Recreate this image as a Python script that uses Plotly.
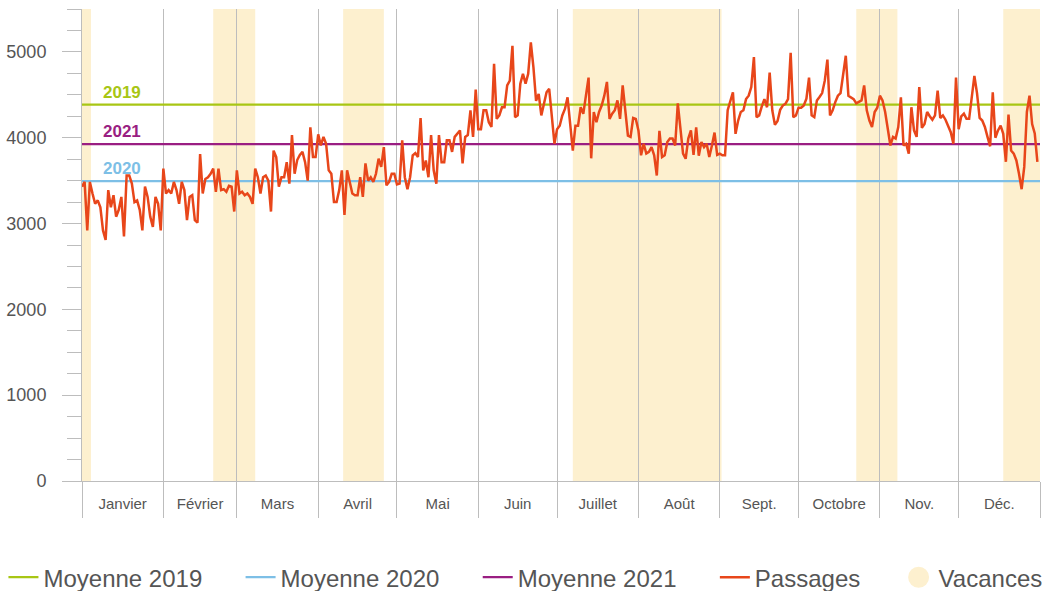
import pandas as pd
import plotly.graph_objects as go

# Données journalières
jours = pd.date_range("2022-01-01", "2022-12-31", freq="D")
passages = [
    3430, 3485, 2920, 3485, 3350, 3230, 3270, 3190, 2920, 2810,
    3390, 3190, 3330, 3080, 3160, 3310, 2850, 3560, 3560, 3465,
    3250, 3270, 3160, 2920, 3430, 3310, 3080, 2960, 3310, 3230,
    2920, 3640, 3350, 3390, 3350, 3485, 3390, 3230, 3485, 3390,
    3040, 3310, 3330, 3040, 3010, 3810, 3350, 3520, 3540, 3580,
    3640, 3370, 3640, 3390, 3400, 3370, 3440, 3430, 3140, 3620,
    3350, 3370, 3330, 3350, 3310, 3230, 3640, 3540, 3350, 3540,
    3560, 3500, 3140, 3850, 3775, 3430, 3540, 3540, 3715, 3465,
    4030, 3580, 3740, 3800, 3835, 3715, 3500, 4120, 3775, 3775,
    4040, 3910, 4010, 3930, 3620, 3580, 3250, 3250, 3390, 3620,
    3100, 3620, 3485, 3350, 3330, 3330, 3540, 3310, 3700, 3500,
    3540, 3485, 3580, 3755, 3660, 3890, 3445, 3485, 3580, 3580,
    3455, 3465, 3970, 3540, 3400, 3540, 3795, 3820, 3775, 4230,
    3620, 3735, 3540, 4030, 3620, 3465, 4030, 3715, 3715, 3970,
    3970, 3835, 4010, 4050, 4085, 3700, 4010, 4030, 4320, 4010,
    4560, 4100, 4100, 4320, 4320, 4180, 4125, 4860, 4220, 4260,
    4355, 4355, 4610, 4665, 5070, 4240, 4260, 4630, 4745, 4630,
    4745, 5110, 4820, 4430, 4510, 4260, 4410, 4530, 4570, 4280,
    3930, 4100, 4140, 4260, 4335, 4470, 4125, 3850, 4140, 4140,
    4355, 4280, 4490, 4700, 3760, 4300, 4180, 4300, 4375, 4490,
    4650, 4220, 4280, 4320, 4435, 4220, 4610, 4300, 4025, 4010,
    4230, 4220, 4085, 3795, 3930, 3815, 3835, 3890, 3795, 3560,
    4080, 3775, 3795, 3950, 3990, 3990, 3910, 4400, 4085, 3815,
    3755, 3990, 4085, 3800, 4120, 3790, 3950, 3890, 3930, 3775,
    3910, 4060, 3800, 3815, 3795, 3795, 4320, 4430, 4530, 4045,
    4200, 4300, 4320, 4450, 4490, 4590, 4940, 4240, 4260, 4365,
    4450, 4355, 4760, 4320, 4150, 4195, 4325, 4375, 4395, 4450,
    4990, 4240, 4260, 4350, 4350, 4375, 4455, 4700, 4260, 4240,
    4435, 4475, 4520, 4665, 4910, 4260, 4320, 4415, 4490, 4520,
    4745, 4955, 4490, 4470, 4450, 4400, 4415, 4435, 4610, 4320,
    4200, 4125, 4300, 4350, 4490, 4435, 4300, 4110, 3910, 4010,
    3990, 4125, 4470, 3910, 3930, 3815, 4355, 4085, 4010, 4590,
    4115, 4160, 4300, 4250, 4210, 4260, 4550, 4230, 4260, 4210,
    4145, 4065, 3930, 4700, 4100, 4250, 4280, 4220, 4220, 4490,
    4720, 4520, 4230, 4200, 4125, 4010, 3900, 4530, 4000, 4085,
    4140, 4045, 3720, 4270, 3850, 3815, 3735, 3580, 3400, 3660,
    4300, 4490, 4160, 4050, 3720,
]

moyenne_2019 = 4385
moyenne_2020 = 3495
moyenne_2021 = 3925

mois = ["Janvier", "Février", "Mars", "Avril", "Mai", "Juin", "Juillet",
        "Août", "Sept.", "Octobre", "Nov.", "Déc."]

vacances_debut = ["2022-01-01", "2022-02-20", "2022-04-10 12:00",
                  "2022-07-07", "2022-10-23", "2022-12-18"]
vacances_fin = ["2022-01-04 10:00", "2022-03-08", "2022-04-26",
                "2022-09-01 16:00", "2022-11-07 16:00", "2023-01-01"]

c2019 = "#a8c614"
c2020 = "#7dbfe6"
c2021 = "#9a1e82"
c_pass = "#e8461a"
c_vac = "#fdf0cf"
gris = "#bdbdbd"
texte = "#555555"

debut = pd.Timestamp("2022-01-01")
fin = pd.Timestamp("2023-01-01")
debuts_mois = pd.date_range(debut, fin, freq="MS")
milieux_mois = [a + (b - a) / 2 for a, b in zip(debuts_mois[:-1], debuts_mois[1:])]

# espace après chaque entrée de légende
esp = "\u00a0" * 5

fig = go.Figure()

for nom, val, col in [("Moyenne 2019", moyenne_2019, c2019),
                      ("Moyenne 2020", moyenne_2020, c2020),
                      ("Moyenne 2021", moyenne_2021, c2021)]:
    fig.add_trace(go.Scatter(x=[debut, fin], y=[val, val], mode="lines", name=nom + esp,
                             line=dict(color=col, width=2.2), hoverinfo="skip"))

fig.add_trace(go.Scatter(x=jours, y=passages, mode="lines", name="Passages" + esp,
                         line=dict(color=c_pass, width=2.5)))

# entrée de légende pour les vacances
fig.add_trace(go.Scatter(x=[None], y=[None], mode="markers", name="Vacances",
                         marker=dict(color=c_vac, size=16, line=dict(color=c_vac, width=5))))

for d0, d1 in zip(vacances_debut, vacances_fin):
    fig.add_shape(type="rect", xref="x", yref="paper", x0=d0, x1=d1, y0=0, y1=1,
                  fillcolor=c_vac, line_width=0, layer="below")

# étiquettes des moyennes
for lbl, val, col in [("2019", moyenne_2019, c2019),
                      ("2021", moyenne_2021, c2021),
                      ("2020", moyenne_2020, c2020)]:
    fig.add_annotation(x=0.02, xref="paper", y=val, yref="y", text="<b>" + lbl + "</b>",
                       showarrow=False, xanchor="left", yanchor="bottom", yshift=1,
                       font=dict(family="Liberation Sans", size=17, color=col))

fig.update_layout(
    width=1051, height=591,
    margin=dict(l=82, r=11, t=9, b=110, autoexpand=False),
    paper_bgcolor="white", plot_bgcolor="white",
    font=dict(family="Liberation Sans", color=texte),
    showlegend=True,
    legend=dict(orientation="h", x=-0.082, xanchor="left", y=-0.157, yanchor="top",
                font=dict(size=24, color=texte), itemwidth=30),
)

fig.update_xaxes(
    type="date", range=[debut, fin], automargin=False,
    tickvals=milieux_mois, ticktext=mois, ticks="", showgrid=False,
    tickfont=dict(size=15, color=texte), ticklabelstandoff=9,
    showline=True, linecolor=gris, linewidth=1,
    minor=dict(dtick="M1", tick0="2022-01-01", ticks="outside", ticklen=36,
               tickcolor=gris, showgrid=True, gridcolor=gris, gridwidth=1),
)

fig.update_yaxes(
    range=[0, 5500], dtick=1000, tick0=0, showgrid=False, zeroline=False, automargin=False,
    ticks="outside", ticklen=19, tickcolor=gris,
    tickfont=dict(size=18, color=texte), ticklabelstandoff=12,
    showline=True, linecolor=gris, linewidth=1,
    minor=dict(dtick=250, ticks="outside", ticklen=14, tickcolor=gris),
)

# la page html a une marge de 8 px par défaut
fig.write_html("out.html", config={"displayModeBar": False},
               post_script="document.body.style.margin='0';")
